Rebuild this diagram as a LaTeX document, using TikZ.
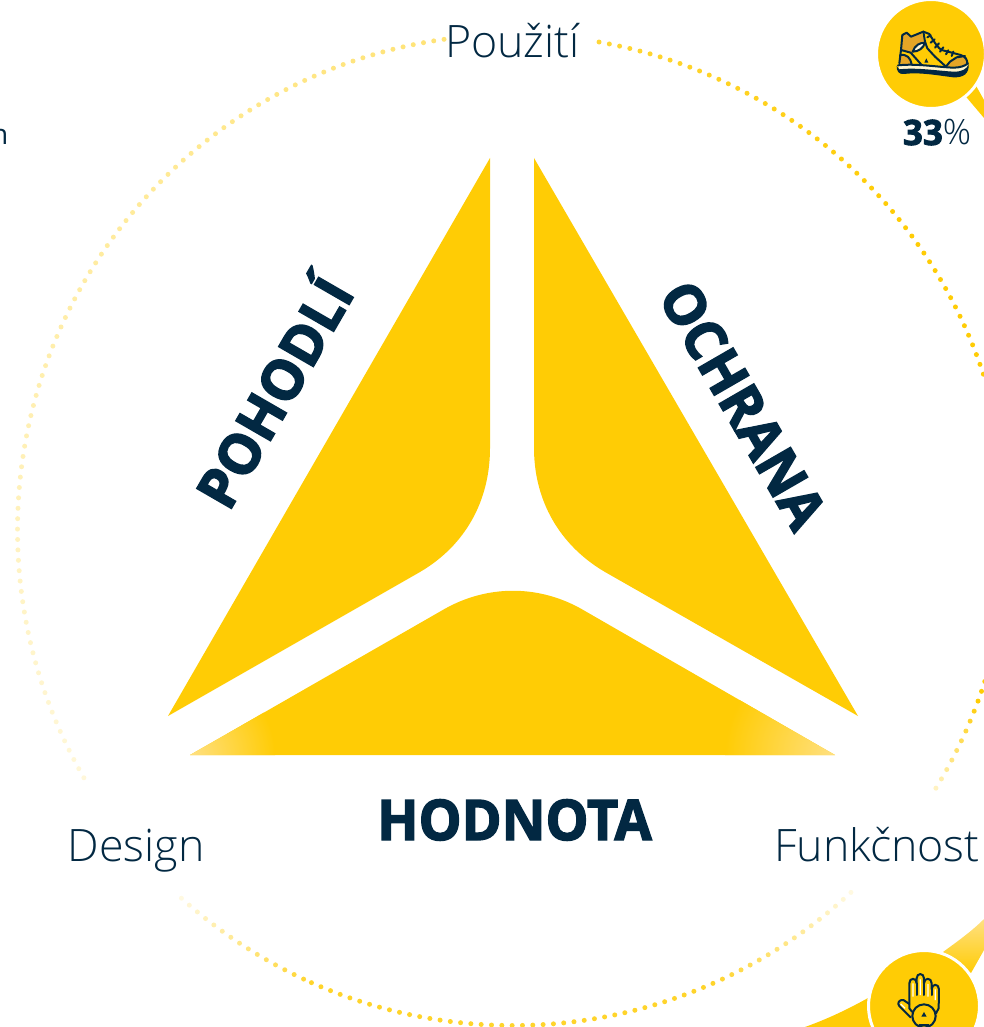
\documentclass[tikz,border=0pt]{standalone}
\usepackage{fontspec}
\setmainfont{Open Sans}
\newfontfamily\lightf{Open Sans Light}
\newfontfamily\xboldbase[BoldFeatures={FakeBold=2.6}]{Open Sans}
\newcommand{\xbold}{\xboldbase\bfseries}
\usetikzlibrary{calc}
\definecolor{ylw}{RGB}{255,204,5}
\definecolor{navy}{RGB}{2,40,66}
\definecolor{ochre}{RGB}{229,165,38}
\definecolor{paley}{RGB}{255,224,130}
\tikzset{
  wedge/.style={fill=ylw,draw=none},
  lbl/.style={text=navy,font=\lightf\fontsize{44.7}{47}\selectfont,inner sep=0pt,anchor=base},
  bigl/.style={text=navy,font=\xbold\fontsize{56}{56}\selectfont,inner sep=0pt,anchor=center},
  ico/.style={draw=navy,line width=2pt,line join=round,line cap=round},
  badge/.style={fill=ylw,draw=white,line width=3pt}
}
\newcommand{\dotarc}[5]{%
  \foreach \i in {0,...,#3}{
    \pgfmathsetmacro{\t}{\i/#3}
    \pgfmathsetmacro{\ang}{#1+(#2-#1)*\t}
    \pgfmathsetmacro{\st}{#4+(#5-#4)*\t}
    \fill[ylw!\st!white] ($(C)+(\ang:495.5)$) circle (2.5);
  }
}
\begin{document}
\begin{tikzpicture}[x=1pt,y=-1pt]
\useasboundingbox (0,0) rectangle (984,1027);
\clip (0,0) rectangle (984,1027);
\coordinate (C) at (513,530);
\dotarc{-80}{-40}{33}{80}{100}
\dotarc{-38.8}{19}{48}{100}{100}
\dotarc{20.2}{31.4}{9}{100}{25}
\dotarc{150}{262}{93}{15}{55}
\dotarc{47}{65}{15}{12}{80}
\dotarc{66.2}{114}{40}{85}{85}
\dotarc{115}{132}{14}{80}{12}
\fill[wedge] (490,158) -- (168,716) -- (420,572)
  .. controls (466,545) and (490,500) .. (490,448) -- cycle;
\fill[wedge] (534,158) -- (858,716) -- (605,572)
  .. controls (559,545) and (534,500) .. (534,448) -- cycle;
\begin{scope}
\clip (190,755) -- (835,755) -- (585,611)
  .. controls (540,584) and (486,584) .. (441,611) -- cycle;
\fill[wedge] (180,580) rectangle (850,760);
\shade[inner color=paley,outer color=ylw] (190,755) circle (85);
\shade[inner color=paley,outer color=ylw] (835,755) circle (110);
\end{scope}
\node[lbl] (pouziti) at (512.5,58) {Použití};
\node[lbl] (design) at (136,861) {Design};
\node[lbl] (funkcnost) at (877,861) {Funkčnost};
\node[bigl,anchor=base] (hodnota) at (514.5,840) {\scalebox{0.965}[1]{HODNOTA}};
\node[bigl,rotate=60] (pohodli) at (270,390) {\scalebox{0.98}[1]{POHODLÍ}};
\node[bigl,rotate=-60] (ochrana) at (743,405) {\scalebox{0.97}[1]{OCHRANA}};
\node[text=navy,font=\fontsize{28}{28}\selectfont,inner sep=0pt,anchor=base east] (cutn) at (8.5,145) {n};
\fill[ylw] (962,92) -- (975,84) -- (984,100) -- (984,118) -- cycle;
\node[badge,circle,minimum size=109pt,inner sep=0pt] (bootbadge) at (931,54) {};
\node[text=navy,inner sep=0pt,anchor=base] (pct) at (937,145) {\xbold\fontsize{35}{35}\selectfont 33\lightf\mdseries\fontsize{35}{35}\selectfont\%};
\begin{scope}[shift={(840,0)},x=0.3333pt,y=-0.3333pt]
\fill[ochre] (187,105) -- (200,98) -- (213,110) -- (245,100) -- (253,125) -- (225,140) -- (212,160) -- (183,150) -- cycle;
\fill[ochre] (178,165) .. controls (200,160) and (210,175) .. (215,195) -- (178,190) -- cycle;
\fill[ochre] (320,200) .. controls (330,180) and (350,170) .. (378,170) -- (382,190) -- (370,200) -- cycle;
\fill[white!85!ylw] (218,155) .. controls (225,135) and (240,128) .. (255,128) .. controls (250,145) and (235,155) .. (218,155) -- cycle;
\draw[ico] (187,105) -- (200,98) -- (213,110) -- (250,95) -- (268,102) .. controls (285,130) and (295,145) .. (305,150) -- (362,165) .. controls (378,170) and (382,180) .. (382,192);
\draw[ico] (187,105) -- (183,150) -- (178,190);
\draw[ico] (183,150) -- (212,158) -- (245,195);
\draw[ico] (250,95) -- (255,125) -- (262,145) -- (285,170) -- (318,200) -- (330,185) -- (350,172) -- (375,168);
\draw[ico] (218,155) .. controls (225,135) and (240,128) .. (255,128) .. controls (250,145) and (235,155) .. (218,155);
\draw[ico] (262,112) -- (272,106) (272,128) -- (284,118) (285,143) -- (297,130) (300,155) -- (310,142) (318,163) -- (325,151) (335,168) -- (340,155);
\draw[ico] (180,166) .. controls (200,160) and (212,175) .. (215,193);
\fill[navy] (253,188) -- (259,175) -- (265,188) -- cycle;
% sole: pale band then thick dark band
\fill[white!80!ylw] (174,196) .. controls (230,192) and (290,203) .. (340,205) .. controls (360,205) and (375,200) .. (384,192) -- (380,212) -- (340,218) -- (180,212) -- cycle;
\draw[ico] (174,196) .. controls (230,190) and (290,201) .. (340,203) .. controls (360,203) and (375,198) .. (384,190);
\fill[navy] (170,198) .. controls (170,212) and (175,224) .. (192,222) .. controls (240,216) and (290,226) .. (340,232) .. controls (370,233) and (388,222) .. (386,192) .. controls (382,207) and (365,216) .. (340,215) .. controls (290,212) and (230,202) .. (178,208) .. controls (174,206) and (172,203) .. (170,198) -- cycle;
\end{scope}
\shade[top color=paley,bottom color=ylw] (943,952) .. controls (958,941) and (972,931) .. (984,919) -- (984,950) -- (971,973) -- cycle;
\fill[ylw] (805,1027) .. controls (830,1018) and (850,1008) .. (868,998) -- (880,1027) -- cycle;
\node[badge,circle,minimum size=111pt,inner sep=0pt] (handbadge) at (924,1006) {};
\begin{scope}[shift={(780,880)},x=0.3333pt,y=-0.3333pt]
\fill[ochre] (392,400) .. controls (405,366) and (455,366) .. (472,400) -- (470,420) -- (395,420) -- cycle;
\draw[ico] (396,395) -- (388,385) -- (388,310) .. controls (388,292) and (410,292) .. (410,310) -- (410,295) .. controls (410,278) and (432,278) .. (432,295) -- (432,310) .. controls (432,292) and (455,292) .. (455,310) -- (455,328) .. controls (455,310) and (477,310) .. (477,328) -- (476,385) -- (468,400);
\draw[ico] (410,310) -- (410,345) (432,295) -- (432,345) (455,320) -- (455,345);
\draw[ico] (388,372) -- (370,360) .. controls (358,358) and (350,370) .. (358,378) -- (392,412);
\draw[ico,fill=ylw] (432,408) circle (35);
\draw[white,line width=1.2pt] (399,310) -- (399,350) (421,298) -- (421,345) (444,312) -- (444,350) (466,328) -- (466,360) (362,372) -- (375,385);
\fill[navy] (424,410) -- (432,396) -- (440,410) -- cycle;
\draw[ico] (418,436) -- (446,436);
\end{scope}
\end{tikzpicture}
\end{document}
